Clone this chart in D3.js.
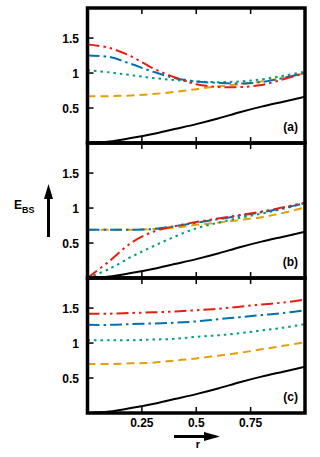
<html>
<head>
    <script src="https://d3js.org/d3.v7.min.js"></script>
    <style>
        body { margin: 0; background: #fff; }
        text { font-family: "Liberation Sans", Arial, sans-serif; font-weight: bold; }
    </style>
</head>
<body>
    <svg id="chart" width="320" height="457"></svg>
    <script>
        // r grid shared by all curves
        var rVals = [0, 0.1, 0.2, 0.3, 0.4, 0.5, 0.6, 0.7, 0.8, 0.9, 1.0];
        var xTicks = [0.25, 0.5, 0.75];
        var xTickLabels = ["0.25", "0.5", "0.75"];
        var yTicks = [0.5, 1, 1.5];
        var yTickLabels = ["0.5", "1", "1.5"];
        var panelLabels = ["(a)", "(b)", "(c)"];

        var blackCurve = [0, 0.02, 0.07, 0.13, 0.2, 0.27, 0.35, 0.44, 0.52, 0.59, 0.66];

        var redA = [1.41, 1.36, 1.24, 1.07, 0.94, 0.84, 0.80, 0.80, 0.83, 0.91, 1.0];
        var blueA = [1.25, 1.23, 1.13, 1.02, 0.93, 0.88, 0.86, 0.85, 0.87, 0.93, 1.0];
        var greenA = [1.04, 1.01, 0.97, 0.93, 0.90, 0.88, 0.87, 0.88, 0.91, 0.96, 1.02];
        var orangeA = [0.67, 0.67, 0.68, 0.70, 0.73, 0.77, 0.81, 0.84, 0.88, 0.93, 1.0];

        var redB = [0.0, 0.24, 0.50, 0.66, 0.74, 0.80, 0.85, 0.90, 0.95, 1.01, 1.08];
        var blueB = [0.69, 0.69, 0.69, 0.70, 0.74, 0.79, 0.84, 0.89, 0.94, 1.0, 1.07];
        var greenB = [0.0, 0.13, 0.30, 0.45, 0.59, 0.71, 0.79, 0.86, 0.92, 0.99, 1.07];
        var orangeB = [0.69, 0.69, 0.69, 0.70, 0.72, 0.76, 0.79, 0.83, 0.87, 0.93, 1.01];

        var redC = [1.42, 1.42, 1.43, 1.44, 1.45, 1.47, 1.49, 1.52, 1.55, 1.58, 1.62];
        var blueC = [1.26, 1.26, 1.27, 1.28, 1.29, 1.31, 1.34, 1.37, 1.40, 1.43, 1.47];
        var greenC = [1.04, 1.04, 1.04, 1.05, 1.06, 1.09, 1.11, 1.14, 1.18, 1.22, 1.27];
        var orangeC = [0.70, 0.70, 0.71, 0.72, 0.75, 0.78, 0.82, 0.86, 0.91, 0.96, 1.01];

        var panels = [
            { label: panelLabels[0], red: redA, blue: blueA, green: greenA, orange: orangeA },
            { label: panelLabels[1], red: redB, blue: blueB, green: greenB, orange: orangeB },
            { label: panelLabels[2], red: redC, blue: blueC, green: greenC, orange: orangeC }
        ];

        var styles = {
            black: { color: "#000000", dash: null },
            orange: { color: "#e69f00", dash: "8,5" },
            green: { color: "#009e73", dash: "2.5,4" },
            blue: { color: "#0072b2", dash: "12,4,2.5,4" },
            red: { color: "#e51e10", dash: "12,4,2.5,4,2.5,4" }
        };
        var order = ["black", "orange", "green", "blue", "red"];

        var left = 87.5, right = 305, panelH = 135, top0 = 8;
        var svg = d3.select("#chart");

        var x = d3.scaleLinear().domain([0, 1]).range([left, right]);

        svg.append("defs").selectAll("clipPath")
            .data(panels)
            .enter()
            .append("clipPath")
            .attr("id", (d, i) => "clip" + i)
            .append("rect")
            .attr("x", left)
            .attr("y", (d, i) => top0 + i * panelH)
            .attr("width", right - left)
            .attr("height", panelH);

        panels.forEach(function (p, i) {
            var top = top0 + i * panelH;
            var y = d3.scaleLinear().domain([0, 1.93]).range([top + panelH, top]);
            var g = svg.append("g");

            var line = d3.line()
                .x((d, k) => x(rVals[k]))
                .y((d) => y(d))
                .curve(d3.curveCatmullRom);

            var lines = g.append("g").attr("clip-path", "url(#clip" + i + ")");
            order.forEach(function (key) {
                var vals = key == "black" ? blackCurve : p[key];
                lines.append("path")
                    .attr("d", line(vals))
                    .attr("fill", "none")
                    .attr("stroke", styles[key].color)
                    .attr("stroke-width", 2)
                    .attr("stroke-dasharray", styles[key].dash);
            });

            // ticks inward
            g.selectAll(".xtb").data(xTicks).enter().append("line")
                .attr("x1", (d) => x(d)).attr("x2", (d) => x(d))
                .attr("y1", top + panelH).attr("y2", top + panelH - 6)
                .attr("stroke", "#000").attr("stroke-width", 1.5);
            g.selectAll(".xtt").data(xTicks).enter().append("line")
                .attr("x1", (d) => x(d)).attr("x2", (d) => x(d))
                .attr("y1", top).attr("y2", top + 6)
                .attr("stroke", "#000").attr("stroke-width", 1.5);
            g.selectAll(".yt").data(yTicks).enter().append("line")
                .attr("x1", left).attr("x2", left + 6)
                .attr("y1", (d) => y(d)).attr("y2", (d) => y(d))
                .attr("stroke", "#000").attr("stroke-width", 1.5);

            g.selectAll(".ytl").data(yTicks).enter().append("text")
                .attr("x", 79)
                .attr("y", (d) => y(d) + 4.5)
                .attr("text-anchor", "end")
                .attr("font-size", 12)
                .text((d, k) => yTickLabels[k]);

            g.append("text")
                .attr("x", 298)
                .attr("y", top + panelH - 12)
                .attr("text-anchor", "end")
                .attr("font-size", 12)
                .text(p.label);

            g.append("rect")
                .attr("x", left).attr("y", top)
                .attr("width", right - left).attr("height", panelH)
                .attr("fill", "none")
                .attr("stroke", "#000")
                .attr("stroke-width", 3.5);
        });

        var bottom = top0 + 3 * panelH;
        svg.selectAll(".xtl").data(xTicks).enter().append("text")
            .attr("x", (d) => x(d))
            .attr("y", bottom + 14)
            .attr("text-anchor", "middle")
            .attr("font-size", 12)
            .text((d, k) => xTickLabels[k]);

        // r arrow
        svg.append("line")
            .attr("x1", 174).attr("x2", 206).attr("y1", 436.5).attr("y2", 436.5)
            .attr("stroke", "#000").attr("stroke-width", 3);
        svg.append("path")
            .attr("d", "M204,432 L220,436.5 L204,441 Z")
            .attr("fill", "#000");
        svg.append("text")
            .attr("x", 198).attr("y", 448)
            .attr("text-anchor", "middle")
            .attr("font-size", 11)
            .text("r");

        // E_BS label and arrow
        var ylab = svg.append("text").attr("x", 14).attr("y", 209).attr("font-size", 12);
        ylab.append("tspan").text("E");
        ylab.append("tspan").attr("dy", 4).attr("font-size", 9).text("BS");
        svg.append("line")
            .attr("x1", 48.5).attr("x2", 48.5).attr("y1", 237).attr("y2", 196)
            .attr("stroke", "#000").attr("stroke-width", 3);
        svg.append("path")
            .attr("d", "M44,199 L48.5,184 L53,199 Z")
            .attr("fill", "#000");
    </script>
</body>
</html>
